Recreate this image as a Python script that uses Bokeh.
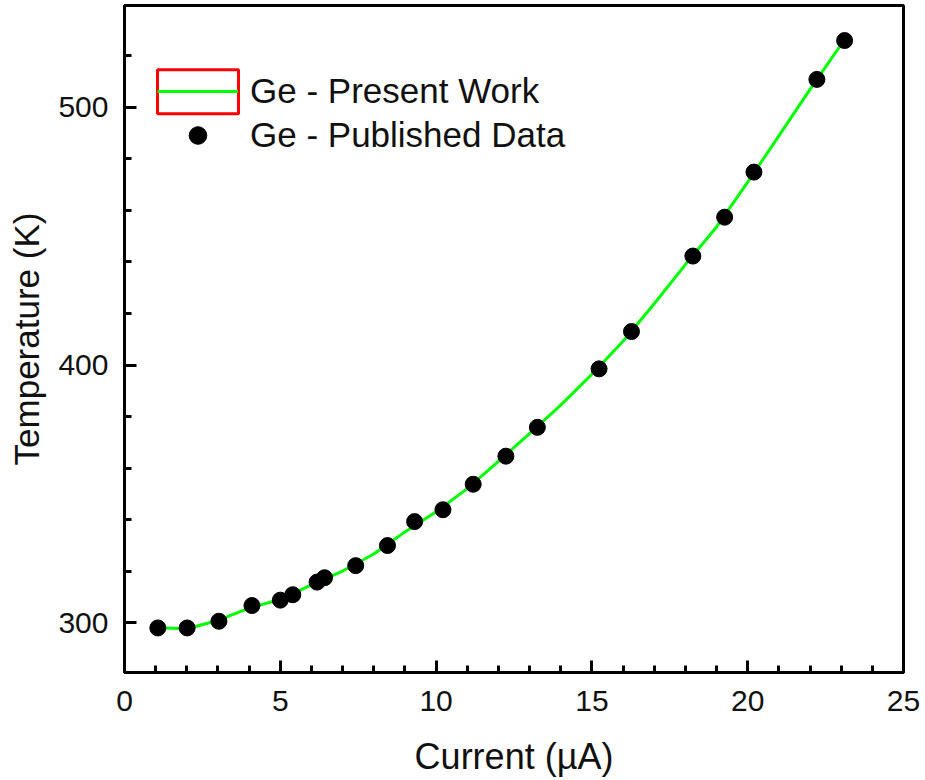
from bokeh.plotting import figure
from bokeh.models import Range1d, SingleIntervalTicker, Legend, LegendItem, BoxAnnotation
from bokeh.embed import file_html
from bokeh.resources import INLINE

# Published data (black markers)
current_pub = [1.07, 2.01, 3.03, 4.09, 5.00, 5.40, 6.18, 6.42, 7.42, 8.44, 9.31,
               10.22, 11.19, 12.24, 13.25, 15.23, 16.27, 18.24, 19.26, 20.20, 22.22, 23.11]
temp_pub = [297.9, 297.9, 300.5, 306.6, 308.7, 310.8, 315.7, 317.4, 322.1, 329.9, 339.2,
            343.8, 353.7, 364.6, 375.8, 398.5, 413.0, 442.3, 457.4, 474.9, 510.9, 526.0]

# Present work (green curve)
current_fit = [1.07, 2.0, 3.0, 4.0, 5.0, 6.0, 7.0, 8.0, 9.0, 10.0, 11.0, 12.0,
               13.0, 14.0, 15.0, 16.0, 17.0, 18.0, 19.0, 20.0, 21.0, 22.0, 23.11]
temp_fit = [298.0, 297.6, 300.8, 305.6, 309.0, 314.6, 320.0, 326.6, 335.2, 343.0, 352.0, 362.6,
            373.4, 384.4, 396.4, 409.2, 423.8, 439.0, 453.6, 471.0, 489.0, 507.0, 526.4]

x_ticks_interval = 5
y_ticks_interval = 100

FONT = "Liberation Sans"

p = figure(width=925, height=780, output_backend="svg", toolbar_location=None,
           x_range=Range1d(0, 25), y_range=Range1d(280.6, 539.6),
           min_border_left=124, min_border_right=22, min_border_top=5, min_border_bottom=108)

p.background_fill_color = "white"
p.border_fill_color = "white"
p.outline_line_color = "black"
p.outline_line_width = 3
p.grid.visible = False

p.xaxis.ticker = SingleIntervalTicker(interval=x_ticks_interval, num_minor_ticks=5)
p.yaxis.ticker = SingleIntervalTicker(interval=y_ticks_interval, num_minor_ticks=5)

for ax in (p.xaxis[0], p.yaxis[0]):
    ax.axis_line_width = 3
    ax.axis_line_color = "black"
    ax.major_tick_in = 12
    ax.major_tick_out = 0
    ax.minor_tick_in = 7
    ax.minor_tick_out = 0
    ax.major_tick_line_width = 3
    ax.minor_tick_line_width = 3
    ax.major_tick_line_color = "black"
    ax.minor_tick_line_color = "black"
    ax.major_label_text_font = FONT
    ax.major_label_text_font_size = "30px"
    ax.major_label_text_color = "#111111"
    ax.axis_label_text_font = FONT
    ax.axis_label_text_font_style = "normal"
    ax.axis_label_text_color = "#111111"

p.xaxis.axis_label = "Current (µA)"
p.yaxis.axis_label = "Temperature (K)"
p.xaxis.axis_label_text_font_size = "36px"
p.yaxis.axis_label_text_font_size = "35px"
p.xaxis.major_label_standoff = 18
p.yaxis.major_label_standoff = 16
p.xaxis.axis_label_standoff = 22
p.yaxis.axis_label_standoff = 9

line_r = p.line(current_fit, temp_fit, line_color="#00FF00", line_width=3)
pts_r = p.scatter(current_pub, temp_pub, marker="circle", size=16,
                  fill_color="black", line_color="black")

legend = Legend(items=[LegendItem(label="Ge - Present Work", renderers=[line_r]),
                       LegendItem(label="Ge - Published Data", renderers=[pts_r])],
                location=(33, 515), glyph_width=81, glyph_height=44, spacing=0,
                padding=0, margin=0, label_standoff=12,
                label_text_font=FONT, label_text_font_size="35px", label_text_color="#111111",
                border_line_alpha=0, background_fill_alpha=0)
p.add_layout(legend)

box = BoxAnnotation(left=33, right=114, top=602.7, bottom=558.7,
                    left_units="screen", right_units="screen",
                    top_units="screen", bottom_units="screen",
                    fill_alpha=0, line_color="red", line_alpha=1.0, line_width=3)
p.add_layout(box)

open("out.html", "w").write(file_html(p, INLINE))
